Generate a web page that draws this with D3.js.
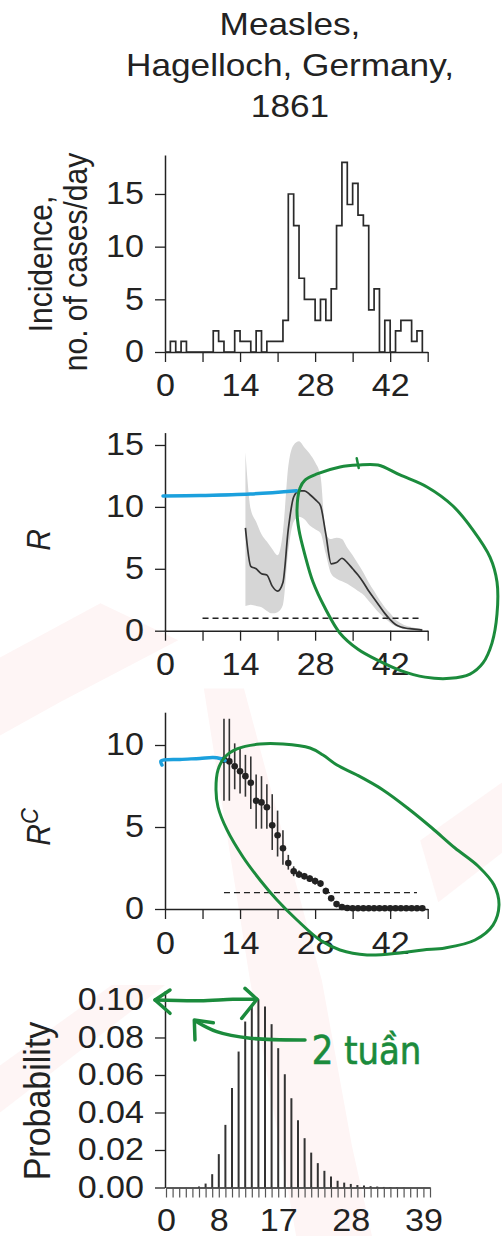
<!DOCTYPE html>
<html><head><meta charset="utf-8">
<script src="https://cdn.jsdelivr.net/npm/d3@7"></script>
<style>
html,body{margin:0;padding:0;background:#fff;}
svg{display:block;}
</style></head><body>
<svg id="chart" width="502" height="1236"></svg>
<script>
// ---------------- data ----------------
const titleLines = ["Measles,", "Hagelloch, Germany,", "1861"];

const incidenceDays = d3.range(0, 49);
const incidence = [0,1,0,1,0,0,0,0,0,2,1,0,0,2,1,1,0,2,0,1,1,1,3,15,12,7,5,5,3,5,3,6,12,18,14,16,13,12,4,6,0,3,0,2,3,3,1,2,0];

const rDays = d3.range(15, 49);
const rMean = [8.3,5.2,5.0,4.6,4.5,3.6,3.2,3.9,8.2,10.8,11.3,11.3,11.0,10.6,10.1,7.8,5.4,5.5,5.85,5.5,5.0,4.5,3.9,3.2,2.6,2.0,1.4,0.9,0.5,0.3,0.2,0.15,0.1,0.05];
const rLow  = [2.0,2.1,2.0,1.9,1.6,1.4,1.5,2.1,6.5,8.8,9.2,9.0,8.5,8.2,7.9,6.2,4.6,4.2,4.0,3.8,3.5,3.2,2.9,2.4,1.9,1.4,1.0,0.65,0.35,0.2,0.1,0.06,0.04,0.02];
const rHigh = [14.4,9.8,8.8,7.8,7.2,6.6,6.1,8.0,13.3,15.0,15.3,14.8,14.3,13.6,12.5,7.8,7.4,7.5,7.4,6.7,6.1,5.4,4.7,3.9,3.2,2.5,1.9,1.4,0.9,0.6,0.4,0.3,0.2,0.15];

const rcDays = d3.range(11, 49);
const rcMean = [9.1,9.0,8.7,8.4,8.1,7.7,6.6,6.5,6.2,5.1,4.5,3.7,2.8,2.3,2.1,2.0,1.85,1.7,1.55,1.1,0.65,0.3,0.12,0.06,0.05,0.05,0.05,0.05,0.05,0.05,0.05,0.05,0.05,0.05,0.05,0.05,0.05,0.05];
const rcLow  = [6.6,6.6,7.3,7.05,6.85,6.1,4.9,4.9,4.9,3.6,3.2,2.7,2.4,2.0,1.9,1.8,1.65,1.5,1.35,0.9,0.5,0.2,0.05,0,0,0,0,0,0,0,0,0,0,0,0,0,0,0];
const rcHigh = [11.6,11.6,10.1,9.75,9.4,9.3,8.2,8.1,7.6,7.0,6.0,4.8,3.3,2.6,2.35,2.2,2.05,1.9,1.75,1.3,0.8,0.4,0.2,0.12,0.1,0.1,0.1,0.1,0.1,0.1,0.1,0.1,0.1,0.1,0.1,0.1,0.1,0.1];

const threshold = 1;

const probDays = d3.range(0, 40);
const prob = [0,0,0,0,0,0.0005,0.0021,0.0071,0.0178,0.0334,0.053,0.0725,0.0885,0.097,0.1004,0.0965,0.0871,0.0743,0.0604,0.0476,0.0359,0.0263,0.0186,0.013,0.0089,0.0058,0.0036,0.0026,0.0019,0.0013,0.001,0.0007,0.0005,0.0003,0.0002,0.0001,0.0001,0,0,0];

const dayTicks = d3.range(0, 50, 7);
const dayTickLabels = [0, 14, 28, 42];
const incTicks = [0, 5, 10, 15];
const rTicks = [0, 5, 10, 15];
const rcTicks = [0, 5, 10];
const probTicks = [0, 0.02, 0.04, 0.06, 0.08, 0.10];
const probXTicks = d3.range(0, 41);
const probXLabels = [0, 8, 17, 28, 39];

// hand-drawn annotations (in each panel's data units)
const blueR  = [[-0.37,10.88],[6.5,10.92],[15.9,11.04],[24.57,11.31]];
const blueRc = [[-0.56,8.78],[-0.75,9.02],[2.8,9.12],[6.5,9.18],[8.96,9.24],[10.26,9.18],[11.2,9.05]];
const loopR = [[25.18,11.53],[26.11,12.17],[28.35,12.66],[32.64,13.22],[36.0,13.38],[39.73,13.38],[43.84,12.58],[48.88,11.61],[53.72,10.07],[57.45,8.13],[60.62,5.95],[61.93,3.93],[61.93,1.35],[60.99,-1.0],[59.32,-2.6],[56.89,-3.5],[53.16,-3.85],[48.5,-3.75],[43.84,-3.2],[39.73,-2.4],[36.0,-1.5],[32.64,-0.2],[29.85,1.83],[27.61,3.93],[26.11,6.11],[24.99,8.13],[24.62,9.75]];
const hookR = [[35.76,13.93],[36.13,13.14]];
const loopRc = [[9.51,7.26],[9.89,8.48],[11.19,9.27],[13.43,9.76],[17.72,10.06],[22.01,10.06],[27.05,9.82],[29.47,9.39],[32.08,8.78],[35.81,8.17],[40.66,7.26],[45.7,6.04],[49.8,4.94],[54.09,3.72],[58.38,2.62],[61.37,1.46],[62.3,0.24],[61.18,-0.98],[57.83,-1.89],[52.23,-2.38],[48.13,-2.5],[43.84,-2.68],[37.68,-2.8],[32.64,-2.5],[28.91,-1.89],[24.62,-0.67],[20.89,0.55],[17.72,1.77],[14.55,3.17],[11.57,4.82],[9.89,6.22]];
const arrow1 = [[-1.67,0.1],[5.15,0.0996],[10.15,0.1004],[13.79,0.1004]];
const arrow1HeadL = [[0.61,0.1053],[-1.67,0.1],[0.61,0.0929]];
const arrow1HeadR = [[11.97,0.1062],[13.79,0.1004],[11.47,0.0902]];
const arrow2 = [[21.06,0.0787],[12.73,0.0796],[7.68,0.0831],[4.65,0.0884]];
const arrow2Head = [[4.39,0.0787],[4.29,0.0893],[7.17,0.0879]];
const noteText = "2 tuần";
const notePos = [22.08, 0.0656];

// faint background watermark shapes (fractions of the canvas)
const watermark = [
  [[0,0.532],[0.2,0.488],[0.355,0.518],[0.12,0.568],[0,0.595]],
  [[0.406,0.557],[0.486,0.557],[0.641,0.793],[0.701,0.927],[0.741,1],[0.59,1],[0.498,0.793]],
  [[0,0.862],[0.223,0.797],[0.329,0.797],[0,0.9]],
  [[0.837,0.68],[1,0.633],[1,0.69],[0.873,0.73]]
];

// ---------------- drawing ----------------
const W = 502, H = 1236;
const FONT = '"Liberation Sans", Arial, Helvetica, sans-serif';
const SX = 1.1; // glyphs in the reference are slightly wider than tall
const INK = "#222";
const GREEN = "#1b8b3c", BLUE = "#1ba0dd";

const svg = d3.select("#chart");
svg.append("rect").attr("width", W).attr("height", H).attr("fill", "#fff");

svg.append("g").selectAll("path").data(watermark).join("path")
  .attr("d", p => "M" + p.map(q => [q[0]*W, q[1]*H].join(",")).join("L") + "Z")
  .attr("fill", "#fef5f5");

// title
const tg = svg.append("g");
titleLines.forEach((t, i) => {
  tg.append("g").attr("transform", `translate(290,${35 + i*41})`)
    .append("text").attr("transform", `scale(${SX},1)`)
    .attr("text-anchor", "middle").attr("font-family", FONT).attr("font-size", 32)
    .attr("fill", INK).text(t);
});

function xAxis(x, y0, ticks, labels, pad, fmt) {
  const g = svg.append("g").attr("transform", `translate(0,${y0})`)
    .call(d3.axisBottom(x).tickValues(ticks).tickSize(10).tickSizeOuter(0).tickPadding(pad)
      .tickFormat(d => labels.some(l => Math.abs(l - d) < 1e-9) ? (fmt ? fmt(d) : d) : ""));
  style(g);
  g.selectAll(".tick text").attr("transform", `scale(${SX},1)`);
  return g;
}
function yAxis(y, x0, ticks, pad, fmt) {
  const g = svg.append("g").attr("transform", `translate(${x0},0)`)
    .call(d3.axisLeft(y).tickValues(ticks).tickSize(10).tickSizeOuter(0).tickPadding(pad)
      .tickFormat(fmt || (d => d)));
  style(g);
  g.selectAll(".tick text").attr("x", -(10 + pad) / SX).attr("transform", `scale(${SX},1)`);
  return g;
}
function style(g) {
  g.select(".domain").attr("stroke", INK).attr("stroke-width", 1.5);
  g.selectAll(".tick line").attr("stroke", INK).attr("stroke-width", 1.3);
  g.selectAll(".tick text").attr("font-family", FONT).attr("font-size", 31).attr("fill", INK);
}
function yLabel(xBase, yCenter, size, italic) {
  const t = svg.append("g").attr("transform", `translate(${xBase},${yCenter}) rotate(-90)`)
    .append("text").attr("transform", `scale(1,${SX})`).attr("text-anchor", "middle")
    .attr("font-family", FONT).attr("font-size", size).attr("fill", INK);
  if (italic) t.attr("font-style", "italic");
  return t;
}

// ---- panel 1: incidence ----
const x1 = d3.scaleLinear().domain([0, 49]).range([165, 427.7]);
const y1 = d3.scaleLinear().domain([0, 18.7]).range([352, 155]);
xAxis(x1, y1(0), dayTicks, dayTickLabels, 12);
yAxis(y1, x1(0), incTicks, 11);
svg.append("path")
  .datum(incidenceDays.map((d, i) => ({d, v: incidence[i]})))
  .attr("d", d3.line().x(p => x1(p.d)).y(p => y1(p.v)).curve(d3.curveStepAfter))
  .attr("fill", "none").attr("stroke", "#2a2a2a").attr("stroke-width", 1.7);
yLabel(52, 264, 30).text("Incidence,");
yLabel(87, 262, 30).text("no. of cases/day");

// ---- panel 2: R ----
const x2 = d3.scaleLinear().domain([0, 49]).range([165, 427.7]);
const y2 = d3.scaleLinear().domain([0, 16]).range([630.7, 432.6]);
const rData = rDays.map((d, i) => ({d, m: rMean[i], lo: rLow[i], hi: rHigh[i]}));
svg.append("path").datum(rData)
  .attr("d", d3.area().x(p => x2(p.d)).y0(p => y2(p.lo)).y1(p => y2(p.hi)).curve(d3.curveMonotoneX))
  .attr("fill", "#d6d6d6");
svg.append("line").attr("x1", x2(7)).attr("x2", x2(48)).attr("y1", y2(threshold)).attr("y2", y2(threshold))
  .attr("stroke", INK).attr("stroke-width", 1.4).attr("stroke-dasharray", "6,4");
svg.append("path").datum(rData)
  .attr("d", d3.line().x(p => x2(p.d)).y(p => y2(p.m)).curve(d3.curveMonotoneX))
  .attr("fill", "none").attr("stroke", "#333").attr("stroke-width", 1.7);
xAxis(x2, y2(0), dayTicks, dayTickLabels, 12);
yAxis(y2, x2(0), rTicks, 11);
yLabel(50, 540, 30, true).text("R");

// ---- panel 3: Rc ----
const x3 = d3.scaleLinear().domain([0, 49]).range([165, 427.7]);
const y3 = d3.scaleLinear().domain([0, 12]).range([909, 712.2]);
const rcData = rcDays.map((d, i) => ({d, m: rcMean[i], lo: rcLow[i], hi: rcHigh[i]}));
svg.append("line").attr("x1", x3(11)).attr("x2", x3(47)).attr("y1", y3(threshold)).attr("y2", y3(threshold))
  .attr("stroke", INK).attr("stroke-width", 1.4).attr("stroke-dasharray", "6,4");
svg.append("g").selectAll("line").data(rcData).join("line")
  .attr("x1", p => x3(p.d)).attr("x2", p => x3(p.d))
  .attr("y1", p => y3(p.lo)).attr("y2", p => y3(p.hi))
  .attr("stroke", "#333").attr("stroke-width", 1.6);
svg.append("g").selectAll("circle").data(rcData).join("circle")
  .attr("cx", p => x3(p.d)).attr("cy", p => y3(p.m)).attr("r", 3.3).attr("fill", INK);
xAxis(x3, y3(0), dayTicks, dayTickLabels, 13);
yAxis(y3, x3(0), rcTicks, 11);
{
  const t = yLabel(50, 827, 30, true);
  t.append("tspan").text("R");
  t.append("tspan").attr("font-size", 22).attr("dy", -11).text("C");
}

// ---- panel 4: probability ----
const x4 = d3.scaleLinear().domain([0, 40]).range([166, 430]);
const y4 = d3.scaleLinear().domain([0, 0.105]).range([1187.5, 990.6]);
svg.append("g").selectAll("line").data(probDays.map((d, i) => ({d, p: prob[i]})).filter(q => q.p > 0)).join("line")
  .attr("x1", q => x4(q.d)).attr("x2", q => x4(q.d))
  .attr("y1", y4(0)).attr("y2", q => y4(q.p))
  .attr("stroke", "#333").attr("stroke-width", 2);
const ax4 = xAxis(x4, y4(0), probXTicks, probXLabels, 11);
ax4.selectAll(".tick line").attr("stroke", "#555").attr("stroke-width", 1.2);
yAxis(y4, 165, probTicks, 11, d3.format(".2f"));
yLabel(50, 1101, 34).text("Probability");

// ---- annotations ----
const ann = svg.append("g").attr("fill", "none").attr("stroke-linecap", "round").attr("stroke-linejoin", "round");
const crOpen = d3.line().curve(d3.curveCatmullRom.alpha(0.5));
const crClosed = d3.line().curve(d3.curveCatmullRomClosed.alpha(0.5));
const lin = d3.line();
const map = (xs, ys) => pts => pts.map(p => [xs(p[0]), ys(p[1])]);

ann.append("path").attr("d", crOpen(map(x2, y2)(blueR))).attr("stroke", BLUE).attr("stroke-width", 3.5);
ann.append("path").attr("d", crOpen(map(x3, y3)(blueRc))).attr("stroke", BLUE).attr("stroke-width", 3.5);
ann.append("path").attr("d", crClosed(map(x2, y2)(loopR))).attr("stroke", GREEN).attr("stroke-width", 3);
ann.append("path").attr("d", lin(map(x2, y2)(hookR))).attr("stroke", GREEN).attr("stroke-width", 2.5);
ann.append("path").attr("d", crClosed(map(x3, y3)(loopRc))).attr("stroke", GREEN).attr("stroke-width", 3);
ann.append("path").attr("d", crOpen(map(x4, y4)(arrow1))).attr("stroke", GREEN).attr("stroke-width", 3.5);
ann.append("path").attr("d", lin(map(x4, y4)(arrow1HeadL))).attr("stroke", GREEN).attr("stroke-width", 3.5);
ann.append("path").attr("d", lin(map(x4, y4)(arrow1HeadR))).attr("stroke", GREEN).attr("stroke-width", 3.5);
ann.append("path").attr("d", crOpen(map(x4, y4)(arrow2))).attr("stroke", GREEN).attr("stroke-width", 3.5);
ann.append("path").attr("d", lin(map(x4, y4)(arrow2Head))).attr("stroke", GREEN).attr("stroke-width", 3.5);
svg.append("g").attr("transform", `translate(${x4(notePos[0])},${y4(notePos[1])})`)
  .append("text").attr("transform", "scale(1,1.15)")
  .attr("font-family", '"DejaVu Sans", sans-serif').attr("font-size", 34)
  .attr("fill", GREEN).attr("stroke", GREEN).attr("stroke-width", 0.6)
  .text(noteText);
</script>
</body></html>
